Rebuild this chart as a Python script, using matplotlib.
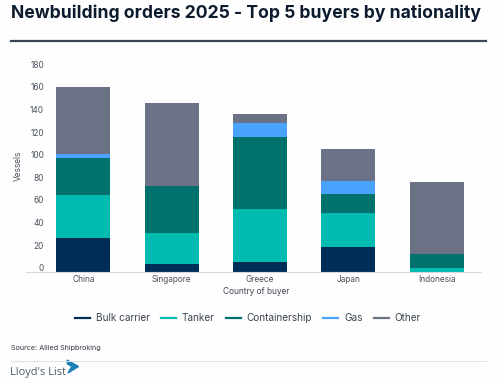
import matplotlib
matplotlib.use("Agg")
import matplotlib.pyplot as plt
from matplotlib.lines import Line2D
from matplotlib.patches import Polygon
from matplotlib.transforms import ScaledTranslation
import numpy as np

plt.rcParams["font.family"] = ["Inter", "DejaVu Sans"]

countries = ["China", "Singapore", "Greece", "Japan", "Indonesia"]
bulk_carrier = [30, 7, 9, 22, 0]
tanker = [38, 28, 47, 30, 4]
containership = [33, 41, 64, 17, 12]
gas = [4, 0, 12, 12, 0]
other = [59, 74, 8, 28, 64]

series_names = ["Bulk carrier", "Tanker", "Containership", "Gas", "Other"]
series_values = [bulk_carrier, tanker, containership, gas, other]
colors = ["#002d58", "#00bbb0", "#00716c", "#4aa3ff", "#6b7286"]
y_ticks = [0, 20, 40, 60, 80, 100, 120, 140, 160, 180]

W, H = 500, 379
fig = plt.figure(figsize=(5, 3.79), dpi=100, facecolor="#fefefe")

# axes placed in pixels from the top left of the picture
left, right, top, bottom = 26, 481, 68.7, 272.3
ax = fig.add_axes([left / W, 1 - bottom / H, (right - left) / W, (bottom - top) / H])
ax.set_facecolor("none")

x = np.arange(len(countries))
base = np.zeros(len(countries))
for name, vals, col in zip(series_names, series_values, colors):
    ax.bar(x, vals, 0.61, bottom=base, color=col, label=name)
    base += np.array(vals)

ax.set_xlim(-0.648, 4.5)
ax.set_ylim(0, 180)
ax.set_xticks(x)
ax.set_xticklabels(countries)
ax.set_yticks(y_ticks)
ax.tick_params(length=0, labelsize=6, labelcolor="#4a515d", pad=2)
ax.tick_params(axis="y", pad=-13)

# y labels sit a little above their tick in the original
shift = ScaledTranslation(0, 3.5 / 100, fig.dpi_scale_trans)
for lab in ax.get_yticklabels():
    lab.set_va("center")
    lab.set_ha("right")
    lab.set_transform(lab.get_transform() + shift)

for s in ["top", "left", "right"]:
    ax.spines[s].set_visible(False)
ax.spines["bottom"].set_color("#d5d8dd")
ax.spines["bottom"].set_linewidth(0.8)

fig.text(18 / W, 1 - 166 / H, "Vessels", rotation=90, fontsize=6, color="#4a515d", ha="center", va="center")
fig.text(256 / W, 1 - 291.7 / H, "Country of buyer", fontsize=6, color="#3f4652", ha="center", va="center")

fig.text(11 / W, 1 - 13.5 / H, "Newbuilding orders 2025 - Top 5 buyers by nationality",
         fontsize=12.65, fontweight="bold", color="#0d1b2e", ha="left", va="center")
fig.add_artist(Line2D([11 / W, 486 / W], [1 - 41 / H] * 2, color="#3b4757", lw=1.6))

handles = [Line2D([], [], color=c, lw=1.6) for c in colors]
fig.legend(handles, series_names, loc="center", bbox_to_anchor=(248 / W, 1 - 318 / H), ncol=5,
           frameon=False, fontsize=7.2, labelcolor="#3b4350", handlelength=1.5,
           handletextpad=0.6, columnspacing=1.1)

fig.text(11 / W, 1 - 348 / H, "Source: Allied Shipbroking", fontsize=5.2, color="#333a46", ha="left", va="center")
fig.add_artist(Line2D([11 / W, 486 / W], [1 - 360.5 / H] * 2, color="#dfe1e4", lw=0.7))

fig.text(10.5 / W, 1 - 372 / H, "Lloyd's List", fontsize=7.9, color="#4f5c6e", ha="left", va="center",
         family=["Open Sans", "DejaVu Sans"])

# logo mark, drawn in picture pixels
logo_px = np.array([(67, 360), (78.5, 366.5), (68, 373), (70, 369.5), (72, 366.5), (67.5, 364)])
logo = Polygon(logo_px / [W, -H] + [0, 1], closed=True, color="#1d7fb8", transform=fig.transFigure)
fig.add_artist(logo)

fig.savefig("out.png", dpi=100, facecolor=fig.get_facecolor())
